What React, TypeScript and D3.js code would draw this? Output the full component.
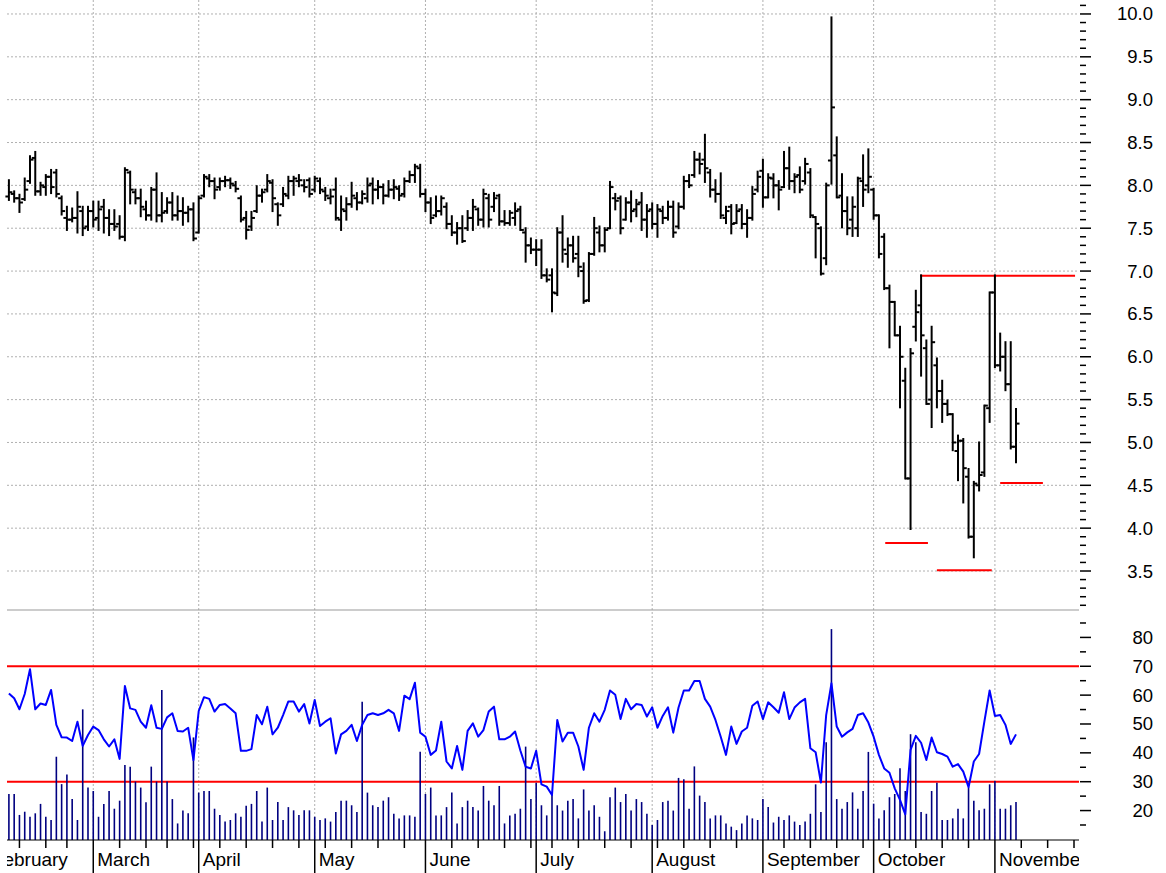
import React from "react";
import * as d3 from "d3";

// ---- Data (trading days from 7 Feb 2008, index 0) ----
const MONTHS = ["February", "March", "April", "May", "June", "July", "August", "September", "October", "November"];
const MONTH_START = [-4, 16, 36, 58, 79, 100, 122, 143, 164, 187];
const WEEK_START = [2, 7, 11, 16, 21, 26, 30, 35, 40, 45, 50, 55, 60, 65, 70, 75, 79, 84, 89, 94, 99, 103, 108, 113, 118, 123, 128, 133, 138, 143, 147, 152, 157, 162, 167, 172, 177, 182, 187, 192, 197, 202];

const OPEN = [7.87,7.90,7.85,7.84,8.05,8.32,7.93,7.98,8.10,8.15,7.85,7.62,7.60,7.62,7.70,7.52,
7.70,7.62,7.75,7.62,7.55,7.55,7.40,8.15,7.92,7.85,7.72,7.65,7.95,7.65,7.70,7.80,7.65,7.70,7.68,7.72,
7.45,7.88,8.08,8.05,7.98,8.05,8.06,8.00,7.85,7.62,7.52,7.70,7.88,7.95,8.03,7.78,7.78,7.88,8.05,8.05,8.00,8.06,
7.95,8.05,7.93,7.85,7.95,7.60,7.70,7.78,7.85,7.80,7.85,8.02,7.95,7.98,7.88,7.95,7.96,7.90,8.05,8.12,8.20,
7.90,7.80,7.65,7.70,7.75,7.55,7.45,7.50,7.50,7.62,7.72,7.60,7.85,7.75,7.88,7.58,7.56,7.62,7.72,7.45,7.30,
7.25,7.25,6.95,6.95,6.74,7.45,7.20,7.30,7.20,7.00,6.66,7.20,7.45,7.30,7.50,7.85,7.85,7.60,7.80,7.72,7.80,7.60,
7.72,7.55,7.70,7.62,7.75,7.52,7.75,8.05,8.12,8.30,8.30,8.15,7.95,7.90,7.62,7.75,7.56,7.72,7.55,7.62,7.95,
8.17,7.86,8.08,8.00,7.98,8.20,8.05,8.12,8.05,8.15,7.63,7.50,7.15,8.29,8.35,7.88,7.70,7.60,7.50,8.05,8.00,
7.95,7.65,7.40,6.80,6.64,6.25,5.72,4.58,6.35,6.60,6.10,5.50,5.90,5.60,5.45,5.33,4.90,5.02,4.60,3.90,4.50,4.65,5.40,
6.75,5.90,6.00,5.68,4.95];
const HIGH = [8.06,7.93,7.89,8.08,8.34,8.39,8.03,8.12,8.18,8.18,7.87,7.75,7.73,7.92,7.75,7.75,
7.81,7.81,7.83,7.71,7.71,7.64,8.20,8.16,7.95,7.95,7.81,7.97,8.14,7.91,7.85,7.91,7.87,7.85,7.75,7.79,
7.87,8.12,8.12,8.08,8.08,8.10,8.08,8.04,7.87,7.69,7.69,7.99,7.95,8.12,8.06,7.79,7.97,8.10,8.10,8.12,8.06,8.08,
8.10,8.08,7.97,7.95,8.08,7.87,7.85,8.03,7.91,7.93,8.08,8.08,8.05,8.01,8.05,8.06,7.99,8.08,8.16,8.24,8.24,
7.95,7.85,7.87,7.87,7.79,7.64,7.56,7.64,7.70,7.83,7.73,7.95,7.89,7.91,7.89,7.70,7.70,7.79,7.75,7.50,7.38,
7.36,7.36,7.02,7.02,7.50,7.64,7.38,7.40,7.40,7.09,7.21,7.62,7.52,7.50,8.04,7.90,7.87,7.85,7.93,7.83,7.91,7.77,
7.79,7.77,7.75,7.81,7.81,7.79,8.10,8.12,8.39,8.37,8.59,8.18,8.06,8.14,7.75,7.77,7.77,7.77,7.71,7.98,8.16,
8.30,8.13,8.13,8.05,8.39,8.44,8.13,8.21,8.31,8.19,7.63,7.51,8.02,9.96,8.56,8.13,7.86,7.86,8.09,8.35,8.42,
7.96,7.65,7.43,6.83,6.64,6.35,5.86,6.09,6.77,6.95,6.19,6.35,5.98,5.72,5.49,5.33,5.08,5.04,4.69,4.54,5.00,5.43,6.75,
6.95,6.27,6.17,6.17,5.39];
const LOW = [7.83,7.81,7.69,7.83,8.03,7.89,7.89,7.89,7.91,7.87,7.66,7.48,7.58,7.45,7.42,7.48,
7.52,7.48,7.45,7.42,7.48,7.38,7.36,7.79,7.79,7.64,7.60,7.60,7.58,7.58,7.68,7.60,7.60,7.54,7.58,7.36,
7.45,7.87,7.99,7.85,7.95,7.99,7.97,7.93,7.58,7.38,7.48,7.69,7.81,7.93,7.70,7.54,7.76,7.85,7.89,7.99,7.93,7.87,
7.93,7.91,7.83,7.79,7.60,7.48,7.60,7.75,7.72,7.79,7.81,7.79,7.85,7.79,7.87,7.85,7.83,7.87,8.04,8.04,7.87,
7.70,7.56,7.64,7.66,7.50,7.42,7.32,7.34,7.48,7.48,7.54,7.52,7.52,7.70,7.54,7.54,7.54,7.54,7.48,7.11,7.21,
7.07,6.92,6.88,6.53,6.72,7.11,7.05,7.11,6.94,6.63,6.65,7.19,7.23,7.23,7.50,7.72,7.44,7.60,7.58,7.64,7.48,7.40,
7.50,7.40,7.56,7.60,7.40,7.50,7.73,7.98,8.10,8.14,8.04,7.87,7.81,7.62,7.56,7.44,7.56,7.50,7.40,7.60,7.93,
7.75,7.86,7.86,7.72,7.98,7.96,7.92,7.92,8.02,7.63,7.16,6.96,7.08,8.02,7.86,7.51,7.43,7.41,7.41,7.76,7.92,
7.61,7.16,6.79,6.11,6.25,5.41,4.58,3.99,6.19,5.78,5.45,5.18,5.41,5.24,5.32,4.91,4.56,4.30,3.89,3.66,4.44,4.61,5.24,
5.88,5.84,5.61,4.93,4.77];
const CLOSE = [7.92,7.85,7.80,7.95,8.30,7.93,8.00,8.10,7.98,7.90,7.70,7.60,7.62,7.75,7.50,7.70,
7.60,7.72,7.62,7.55,7.52,7.40,8.18,7.95,7.85,7.75,7.65,7.95,7.65,7.68,7.80,7.65,7.70,7.68,7.72,7.38,
7.85,8.10,8.05,7.95,8.05,8.06,8.02,7.96,7.60,7.48,7.62,7.88,7.92,8.05,7.85,7.65,7.90,8.05,8.08,8.06,7.98,7.90,
8.08,7.95,7.88,7.87,7.62,7.72,7.78,7.88,7.80,7.90,8.00,7.95,7.98,7.88,7.95,7.98,7.88,8.05,8.12,8.22,7.90,
7.80,7.62,7.70,7.85,7.55,7.45,7.50,7.35,7.62,7.75,7.60,7.90,7.60,7.85,7.58,7.56,7.68,7.70,7.48,7.30,7.25,
7.25,6.95,6.90,6.75,7.45,7.25,7.30,7.15,7.05,6.65,7.20,7.50,7.30,7.48,7.98,7.82,7.50,7.80,7.70,7.78,7.60,7.70,
7.55,7.72,7.62,7.75,7.45,7.75,8.05,8.00,8.30,8.25,8.20,7.95,7.90,7.65,7.70,7.55,7.70,7.55,7.62,7.90,8.10,
7.86,8.09,8.00,7.95,8.20,8.05,8.10,7.95,8.25,7.65,7.55,6.97,8.00,8.91,7.86,7.70,7.50,7.75,8.08,7.95,8.10,
7.65,7.20,6.80,6.64,6.25,6.00,4.58,6.04,6.52,6.25,5.45,6.17,5.60,5.45,5.33,5.00,5.02,4.70,3.90,4.52,4.62,5.43,6.75,
5.90,6.00,5.68,4.95,5.22];

const VOLUME = [20.0,20.0,10.9,12.3,10.1,11.6,15.7,10.1,8.7,36.2,24.3,28.5,17.8,8.7,56.8,22.8,
21.3,10.1,15.7,21.3,13.6,17.1,32.6,31.9,25.4,22.8,16.4,31.9,25.4,65.2,25.4,17.8,7.2,12.8,11.6,44.6,
20.6,21.3,21.3,13.6,10.9,8.0,8.7,11.6,10.1,14.9,15.7,21.3,8.0,22.8,8.7,16.5,8.7,14.3,12.9,10.9,12.9,12.9,
10.1,8.7,9.4,8.0,12.2,17.1,17.1,15.1,12.2,60.1,20.6,15.1,14.3,17.1,18.6,11.4,9.4,10.7,10.7,10.1,38.4,
20.0,22.8,10.7,10.7,14.3,20.6,7.2,14.3,17.1,14.3,12.8,23.5,17.1,15.1,23.5,7.2,10.7,11.4,13.6,40.6,17.8,
24.9,15.1,10.7,20.0,15.1,12.8,17.1,17.8,9.4,22.0,12.8,15.1,10.1,3.8,18.6,22.8,16.5,20.0,12.8,17.8,16.5,11.4,
6.5,8.7,16.5,17.1,12.8,27.0,26.4,13.6,32.0,19.3,16.5,9.4,10.7,10.7,7.2,5.8,4.3,7.2,10.7,9.4,8.7,
17.8,14.3,7.6,10.1,8.7,10.7,8.0,6.5,8.0,11.4,24.2,12.2,42.5,91.7,17.8,13.6,16.5,20.7,13.6,21.3,38.3,
15.8,9.4,12.9,18.6,20.0,31.2,21.3,46.0,42.5,12.2,11.4,21.3,24.9,8.7,8.7,9.4,13.6,9.4,22.8,17.1,12.9,13.6,24.2,
25.7,13.6,13.6,15.1,16.5];

const RSI = [60.6,58.9,55.1,60.4,69.0,55.1,57.1,56.6,61.8,49.7,45.4,45.3,44.1,50.8,42.4,46.2,
49.1,47.9,44.7,42.2,44.7,37.9,63.2,55.4,54.9,50.8,48.7,56.5,48.7,48.3,52.3,53.7,47.6,47.4,48.7,37.5,
54.5,59.3,58.7,54.3,56.6,56.9,55.4,53.7,40.7,40.7,41.3,53.1,49.9,56.0,46.4,48.7,53.1,57.8,57.8,54.3,56.9,50.2,
58.3,49.3,50.8,52.0,39.8,46.4,47.6,49.7,44.1,49.7,53.1,53.7,53.1,53.7,54.9,53.7,47.6,59.8,58.6,64.3,47.0,
45.6,39.3,40.8,50.8,37.0,34.6,42.4,34.1,47.6,50.2,45.6,47.9,54.3,56.0,44.7,44.7,45.6,47.4,40.8,35.2,34.6,
40.7,29.1,28.3,25.4,51.4,43.9,47.0,47.0,42.2,34.1,48.7,53.7,50.8,54.9,61.6,60.1,51.7,58.7,55.1,56.9,56.6,52.6,
55.8,48.7,52.8,55.8,47.0,55.7,61.6,61.6,64.9,64.9,58.7,56.0,51.4,45.6,39.3,49.1,43.1,47.4,48.7,56.3,57.8,
51.7,57.5,55.8,53.9,61.0,51.7,55.7,57.5,58.7,41.6,40.2,29.7,53.1,64.1,49.1,45.6,47.1,48.3,53.1,53.7,50.5,
45.6,39.3,34.6,33.1,27.7,23.7,18.7,41.0,45.9,43.5,37.5,45.3,40.2,39.6,38.7,35.2,36.1,33.5,28.1,37.0,39.6,50.8,61.6,
52.8,53.1,49.7,43.1,46.4];

const PRICE_LABELS = ["3.5", "4.0", "4.5", "5.0", "5.5", "6.0", "6.5", "7.0", "7.5", "8.0", "8.5", "9.0", "9.5", "10.0"];
const RSI_LABELS = [20, 30, 40, 50, 60, 70, 80];
const RSI_BANDS = [70, 30];
// support / resistance segments: level, from index, to index
const LEVEL_LINES = [
  { level: 6.946, from: 172.8, to: 202.2 },
  { level: 3.827, from: 166.2, to: 174.3 },
  { level: 3.51, from: 176.0, to: 186.4 },
  { level: 4.527, from: 188.0, to: 196.1 },
];

const FONT = "'Liberation Sans', Arial, Helvetica, sans-serif";

export default function App() {
  const W = 1166, H = 873;
  const plotL = 7, plotR = 1079;
  const priceTop = 0, priceBot = 610, lowBot = 840;

  const x = d3.scaleLinear().domain([0, 191]).range([8.9, 1016.0]);
  const yP = d3.scaleLinear().domain([3.045, 10.163]).range([priceBot, priceTop]);
  const yR = d3.scaleLinear().domain([9.8, 89.5]).range([lowBot, priceBot]);
  const yV = d3.scaleLinear().domain([0, 100]).range([lowBot, priceBot]);

  const priceMinor = d3.range(31, 102).map((v) => v / 10);
  const rsiMinor = d3.range(15, 90, 5);
  const grid = "#b0b0b0";

  const rsiPath = d3.line<number>().x((_, i) => x(i)).y((d) => yR(d))(RSI) || "";

  return (
    <svg width={W} height={H} style={{ position: "absolute", left: 0, top: 0, background: "#fff" }} fontFamily={FONT}>
      <defs>
        <clipPath id="monthClip">
          <rect x={plotL} y={lowBot} width={plotR - plotL} height={H - lowBot} />
        </clipPath>
      </defs>
      <rect x={0} y={0} width={W} height={H} fill="#fff" />
      {/* horizontal price grid */}
      {PRICE_LABELS.map((t) => (
        <line key={"hg" + t} x1={plotL} x2={plotR} y1={yP(+t)} y2={yP(+t)} stroke={grid} strokeDasharray="2,2" />
      ))}
      {/* vertical month grid */}
      {MONTH_START.map((m, k) => (
        <line key={"vg" + k} x1={x(m)} x2={x(m)} y1={0} y2={lowBot} stroke={grid} strokeDasharray="2,2" />
      ))}
      {/* panel separator */}
      <line x1={plotL} x2={plotR} y1={priceBot} y2={priceBot} stroke="#999" strokeWidth={1} />
      {/* level lines */}
      {LEVEL_LINES.map((l, k) => (
        <line key={"lv" + k} x1={x(l.from)} x2={x(l.to)} y1={yP(l.level)} y2={yP(l.level)} stroke="#ff0000" strokeWidth={2} />
      ))}
      {/* OHLC bars */}
      <g stroke="#000" strokeWidth={2}>
        {OPEN.map((o, i) => {
          const cx = x(i);
          return (
            <g key={"b" + i}>
              <line x1={cx} x2={cx} y1={yP(HIGH[i]) - 1} y2={yP(LOW[i]) + 1} />
              <line x1={cx - 3.5} x2={cx} y1={yP(o)} y2={yP(o)} />
              <line x1={cx} x2={cx + 3.5} y1={yP(CLOSE[i])} y2={yP(CLOSE[i])} />
            </g>
          );
        })}
      </g>
      {/* RSI bands */}
      {RSI_BANDS.map((b) => (
        <line key={"rb" + b} x1={plotL} x2={plotR} y1={yR(b)} y2={yR(b)} stroke="#ff0000" strokeWidth={2} />
      ))}
      {/* volume */}
      <g stroke="#000080" strokeWidth={1.6}>
        {VOLUME.map((v, i) => (
          <line key={"v" + i} x1={x(i)} x2={x(i)} y1={lowBot} y2={yV(v)} />
        ))}
      </g>
      {/* RSI line */}
      <path d={rsiPath} fill="none" stroke="#0000ff" strokeWidth={2} strokeLinejoin="round" />
      {/* x axis */}
      <line x1={plotL} x2={plotR} y1={lowBot} y2={lowBot} stroke="#000" strokeWidth={1.2} />
      {WEEK_START.filter((w) => !MONTH_START.includes(w)).map((w) => (
        <line key={"wt" + w} x1={x(w)} x2={x(w)} y1={lowBot} y2={lowBot + 8} stroke="#000" strokeWidth={1.5} />
      ))}
      {MONTH_START.map((m, k) => (
        <line key={"mt" + k} x1={x(m)} x2={x(m)} y1={lowBot} y2={H} stroke="#000" strokeWidth={1.5} />
      ))}
      <g clipPath="url(#monthClip)">
        {MONTHS.map((name, k) => (
          <text key={"ml" + k} x={x(MONTH_START[k]) + 4} y={866} fontSize={19} fill="#000">
            {name}
          </text>
        ))}
      </g>
      {/* right price axis */}
      {priceMinor.map((v) => {
        const major = Math.abs(v * 2 - Math.round(v * 2)) < 1e-6;
        return (
          <line key={"pt" + v} x1={plotR + 1} x2={plotR + (major ? 12 : 7)} y1={yP(v)} y2={yP(v)} stroke="#000" strokeWidth={1.5} />
        );
      })}
      {PRICE_LABELS.map((t) => (
        <text key={"pl" + t} x={1153} y={yP(+t) + 6.5} fontSize={18.5} textAnchor="end" fill="#000">
          {t}
        </text>
      ))}
      {/* right RSI axis */}
      {rsiMinor.map((v) => {
        const major = v % 10 === 0;
        return (
          <line key={"rt" + v} x1={plotR + 1} x2={plotR + (major ? 12 : 7)} y1={yR(v)} y2={yR(v)} stroke="#000" strokeWidth={1.5} />
        );
      })}
      {RSI_LABELS.map((t) => (
        <text key={"rl" + t} x={1153} y={yR(t) + 6.5} fontSize={18.5} textAnchor="end" fill="#000">
          {t}
        </text>
      ))}
    </svg>
  );
}
